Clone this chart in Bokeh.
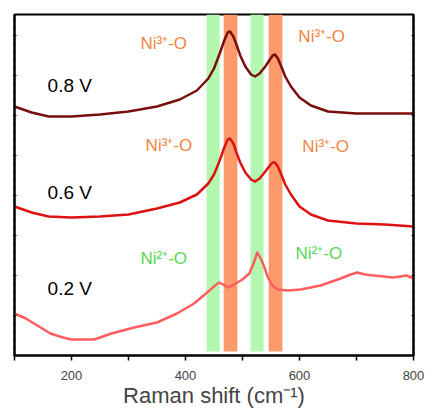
from bokeh.plotting import figure
from bokeh.models import Range1d, FixedTicker, LinearAxis
from bokeh.core.properties import value
from bokeh.embed import file_html
from bokeh.resources import INLINE

# Raman shift (cm-1) and intensity (arbitrary units, offset traces)
x_08 = [100,130,160,200,250,300,350,390,420,440,450,460,468,474,478,484,490,496,505,515,522,530,540,548,553,557,562,568,575,585,600,620,650,700,750,800]
y_08 = [249,243,239,239,241,244,249,256,265,277,287,302,315,323,324,319,310,300,289,281,279,282,289,296,300,301,297,289,279,269,258,250,244,242,242,242]

x_06 = [100,130,160,200,250,300,350,390,420,440,450,460,468,474,478,484,490,496,505,515,522,530,540,548,553,557,562,568,575,585,600,620,650,700,750,800]
y_06 = [149,143,139,138,139,141,147,153,161,172,181,195,208,216,217,212,202,193,183,176,174,177,184,190,193,193,189,181,171,161,149,141,135,132,131,129]

x_02 = [100,120,140,163,185,200,220,240,270,310,350,385,415,438,452,459,466,474,482,491,500,512,520,526,532,538,544,552,562,579,602,637,672,690,701,715,730,765,788,800]
y_02 = [42,37,30,22,18,16,16,16,22,28,33,42,52,63,70,73,71,68,70,73,76,82,93,103,97,89,79,70,66,65,66,70,77,81,83,81,80,78,80,77]

band_green = [(437, 460), (514, 537)]
band_orange = [(467, 491), (546, 570)]

labels_v = ["0.8 V", "0.6 V", "0.2 V"]
labels_v_x = [158, 158, 158]
labels_v_y = [270, 163, 67]

ni3_text = ["Ni³⁺-O", "Ni³⁺-O", "Ni³⁺-O", "Ni³⁺-O"]
ni3_x = [321, 598, 330, 605]
ni3_y = [312, 319, 210, 209]

ni2_text = ["Ni²⁺-O", "Ni²⁺-O"]
ni2_x = [321, 593]
ni2_y = [97, 102]

FONT = "Liberation Sans"

p = figure(width=427, height=412, output_backend="svg", toolbar_location=None,
           x_range=Range1d(100, 800), y_range=Range1d(0, 341),
           min_border_left=14, min_border_right=14, min_border_top=14, min_border_bottom=57)
p.grid.visible = False
p.outline_line_color = "black"
p.outline_line_width = 2
p.background_fill_color = "white"
p.border_fill_color = "white"

# bands
p.quad(left=[b[0] for b in band_green], right=[b[1] for b in band_green],
       bottom=4, top=341, fill_color="#b4f7b0", line_color=None)
p.quad(left=[b[0] for b in band_orange], right=[b[1] for b in band_orange],
       bottom=4, top=341, fill_color="#fd9a6b", line_color=None)

p.line(x_08, y_08, line_color="#7a0d0d", line_width=2.5, line_join="round")
p.line(x_06, y_06, line_color="#dc1212", line_width=2.5, line_join="round")
p.line(x_02, y_02, line_color="#ff5e5e", line_width=2.5, line_join="round")

p.text(x=labels_v_x, y=labels_v_y, text=labels_v, text_font=value(FONT),
       text_font_size="19px", text_color="black", text_baseline="middle", text_align="left")
p.text(x=ni3_x, y=ni3_y, text=ni3_text, text_font=value(FONT),
       text_font_size="17px", text_color="#f2843f", text_baseline="middle", text_align="left")
p.text(x=ni2_x, y=ni2_y, text=ni2_text, text_font=value(FONT),
       text_font_size="17px", text_color="#55d855", text_baseline="middle", text_align="left")

xa = p.xaxis[0]
xa.ticker = FixedTicker(ticks=[200, 400, 600, 800], minor_ticks=[100, 300, 500, 700])
xa.axis_label = "Raman shift (cm⁻¹)"
xa.axis_label_text_font = FONT
xa.axis_label_text_font_style = "normal"
xa.axis_label_text_font_size = "22px"
xa.axis_label_standoff = 0
xa.major_label_text_font = FONT
xa.major_label_text_font_size = "13px"
xa.major_label_standoff = 10
xa.axis_line_width = 2
xa.major_tick_out = 5
xa.major_tick_in = 0
xa.minor_tick_out = 5
xa.minor_tick_in = 0
xa.major_tick_line_width = 1.5
xa.minor_tick_line_width = 1.5

yticks = list(range(0, 341, 40))
def style_y(ya):
    ya.ticker = FixedTicker(ticks=yticks, minor_ticks=list(range(0, 341, 8)))
    ya.major_label_overrides = {t: "" for t in yticks}
    ya.major_label_standoff = 0
    ya.axis_line_width = 2
    ya.major_tick_in = 2
    ya.major_tick_out = 1
    ya.minor_tick_in = 1
    ya.minor_tick_out = 1

style_y(p.yaxis[0])
ra = LinearAxis()
style_y(ra)
p.add_layout(ra, "right")

open("out.html", "w").write(file_html(p, INLINE))
